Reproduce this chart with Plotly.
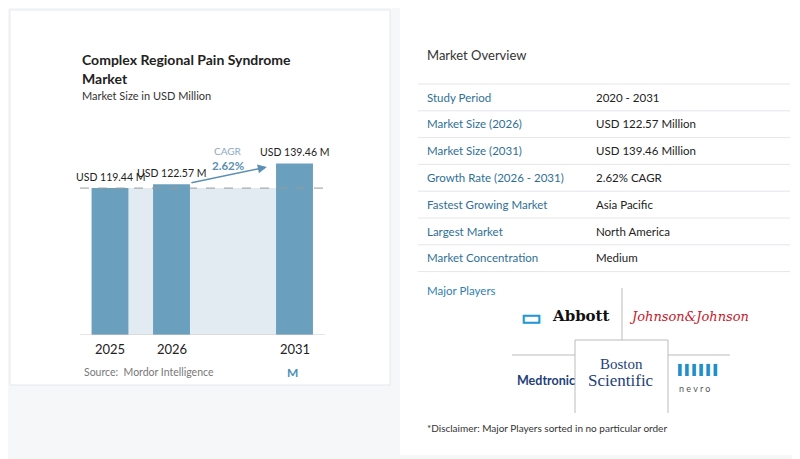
import plotly.graph_objects as go

years = ["2025", "2026", "2031"]
xpos = [0, 1, 3]
values = [119.44, 122.57, 139.46]
value_labels = ["USD 119.44 M", "USD 122.57 M", "USD 139.46 M"]
cagr = "2.62%"

overview_labels = ["Study Period", "Market Size (2026)", "Market Size (2031)",
                   "Growth Rate (2026 - 2031)", "Fastest Growing Market",
                   "Largest Market", "Market Concentration"]
overview_values = ["2020 - 2031", "USD 122.57 Million", "USD 139.46 Million",
                   "2.62% CAGR", "Asia Pacific", "North America", "Medium"]

W, H = 800, 459
OFF = 8  # page body margin
def px(x): return (x - OFF) / W
def py(y): return 1 - (y - OFF) / H

fig = go.Figure()
fig.add_trace(go.Bar(x=xpos, y=values, width=0.6, marker_color="#6a9fbe",
                     marker_line_width=0, hoverinfo="skip"))

fig.update_layout(
    width=W, height=H, margin=dict(l=0, r=0, t=0, b=0),
    paper_bgcolor="#f6f7f9", plot_bgcolor="rgba(0,0,0,0)", showlegend=False,
    font=dict(family="Lato, Open Sans, sans-serif", color="#222"),
    xaxis=dict(domain=[px(80), px(325)], range=[-0.488, 3.496], visible=False),
    yaxis=dict(domain=[py(335), py(150.5)], range=[0, 150], visible=False),
)

shapes = [
    dict(type="rect", xref="paper", yref="paper", x0=px(10), x1=px(390), y0=py(385), y1=py(10),
         fillcolor="white", line=dict(color="#e6e8ec", width=1), layer="below"),
    dict(type="rect", xref="paper", yref="paper", x0=px(400), x1=px(798), y0=py(455), y1=py(8),
         fillcolor="white", line=dict(width=0), layer="below"),
    dict(type="rect", x0=0.3, x1=2.7, y0=0, y1=values[0], fillcolor="#e2ebf2",
         line=dict(width=0), layer="below"),
    dict(type="line", x0=-0.488, x1=3.496, y0=values[0], y1=values[0],
         line=dict(color="#999", width=1, dash="dash")),
    dict(type="line", x0=-0.488, x1=3.496, y0=0, y1=0, line=dict(color="#ccc", width=1)),
]
for i in range(len(overview_labels) + 1):
    yy = 84 + i * 26.8
    shapes.append(dict(type="line", xref="paper", yref="paper", x0=px(418), x1=px(790),
                       y0=py(yy), y1=py(yy), line=dict(color="#e3e6ea", width=1)))
# logo grid lines
for x0, y0, x1, y1 in [(622, 288, 622, 340), (512, 355, 575, 355), (668, 355, 730, 355),
                       (575, 340, 668, 340), (575, 340, 575, 413), (668, 340, 668, 413)]:
    shapes.append(dict(type="line", xref="paper", yref="paper", x0=px(x0), x1=px(x1),
                       y0=py(y0), y1=py(y1), line=dict(color="#bbb", width=1)))
fig.update_layout(shapes=shapes)

def txt(x, y, t, size=11, color="#222", anchor="left", bold=False, family=None):
    f = dict(size=size, color=color)
    if family: f["family"] = family
    fig.add_annotation(xref="paper", yref="paper", x=px(x), y=py(y), text=f"<b>{t}</b>" if bold else t,
                       showarrow=False, xanchor=anchor, yanchor="middle", font=f)

txt(80, 60, "Complex Regional Pain Syndrome", 14, "#222", bold=True)
txt(80, 78, "Market", 14, "#222", bold=True)
txt(80, 95, "Market Size in USD Million", 11, "#333")
txt(82, 372, "Source:  Mordor Intelligence", 10.5, "#777")
txt(292, 372, "<b>M</b>", 12, "#4a8fb8", anchor="center")

for x, v, lab in zip(xpos, values, value_labels):
    fig.add_annotation(x=x, y=v, text=lab, showarrow=False, yanchor="bottom", yshift=3,
                       font=dict(size=10.5, color="#222"))
    fig.add_annotation(x=x, y=0, text=years[xpos.index(x)], showarrow=False, yanchor="top",
                       yshift=-4, font=dict(size=13, color="#222"))

fig.add_annotation(x=2.55, y=136.5, ax=1.3, ay=123.5, xref="x", yref="y", axref="x", ayref="y",
                   text="", showarrow=True, arrowhead=2, arrowsize=1.2, arrowwidth=1.5,
                   arrowcolor="#5b8fb3")
txt(228, 151, "CAGR", 10, "#8aa9c0", anchor="center")
txt(228, 165, "<b>2.62%</b>", 11.5, "#5b8fb3", anchor="center")

txt(425, 55, "Market Overview", 13, "#333")
for i, (l, v) in enumerate(zip(overview_labels, overview_values)):
    yy = 97 + i * 26.8
    txt(425, yy, l, 11.5, "#2f6f96")
    txt(594, yy, v, 11.5, "#222")

txt(425, 290, "Major Players", 11.5, "#2f7fb0")
txt(519, 316, "<b>▭</b>", 22, "#1e9ad6")
txt(550, 316, "<b>Abbott</b>", 15, "#111", family="DejaVu Serif")
txt(627, 316, "<i>Johnson&amp;Johnson</i>", 13, "#c8202a", family="DejaVu Serif")
txt(515, 380, "<b>Medtronic</b>", 12.5, "#1e3f7a")
txt(621, 364, "Boston", 15, "#1e3f7a", anchor="center", family="Liberation Serif")
txt(621, 380, "Scientific", 17, "#1e3f7a", anchor="center", family="Liberation Serif")
txt(676, 370, "<b>▌▌▌▌▌▌</b>", 10, "#1e8fc8")
txt(677, 388, "n e v r o", 9, "#555")
txt(425, 428, "*Disclaimer: Major Players sorted in no particular order", 10, "#333")

fig.write_html("out.html")
